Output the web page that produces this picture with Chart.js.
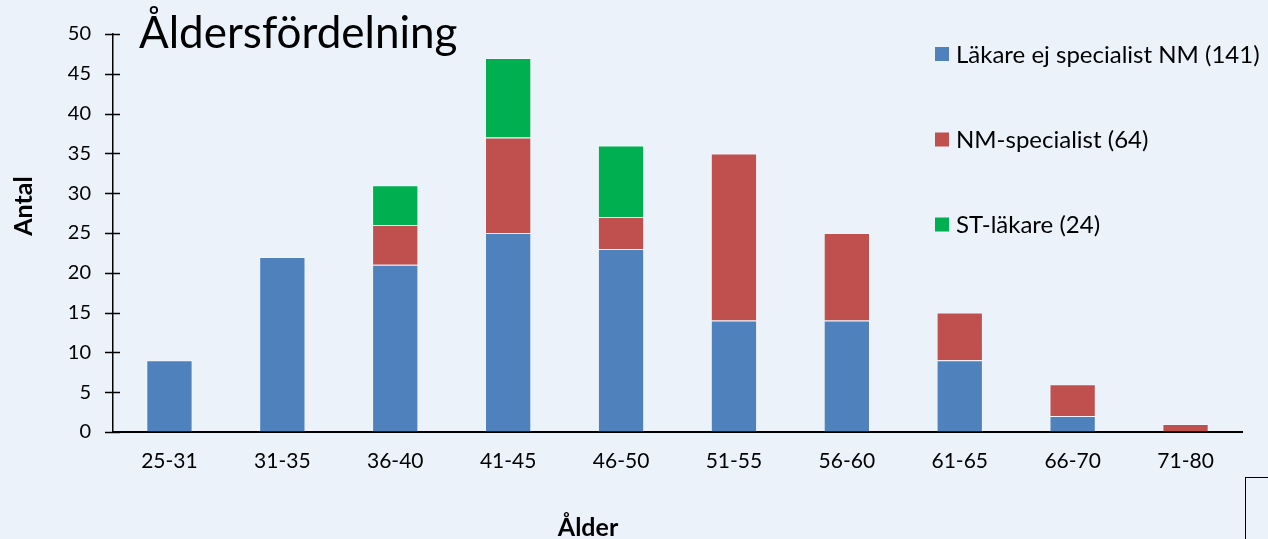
<!DOCTYPE html>
<html lang="sv">
<head>
<meta charset="utf-8">
<title>Åldersfördelning</title>
<script src="https://cdn.jsdelivr.net/npm/chart.js@4/dist/chart.umd.min.js"></script>
<style>
  html, body { margin: 0; padding: 0; background: #EBF2FA; }
  #wrap { position: relative; width: 1268px; height: 539px; overflow: hidden; background: #EBF2FA; }
  #c { display: block; }
  #frame { position: absolute; left: 1245px; top: 477px; width: 60px; height: 100px; border: 1.5px solid #000; box-sizing: border-box; }
</style>
</head>
<body>
<div id="wrap">
  <canvas id="c" width="1268" height="539"></canvas>
  <div id="frame"></div>
</div>
<script>
// Age groups on the x axis
const ageGroups = ['25-31', '31-35', '36-40', '41-45', '46-50', '51-55', '56-60', '61-65', '66-70', '71-80'];

// Number of doctors per age group
const nonSpecialists = [9, 22, 21, 25, 23, 14, 14, 9, 2, 0];
const nmSpecialists  = [0, 0, 5, 12, 4, 21, 11, 6, 4, 1];
const stDoctors      = [0, 0, 5, 10, 9, 0, 0, 0, 0, 0];

// Y axis range and step
const yMin = 0;
const yMax = 50;
const yStep = 5;

const seriesLabels = ['Läkare ej specialist NM (141)', 'NM-specialist (64)', 'ST-läkare (24)'];
const seriesColors = ['#4F81BD', '#C0504D', '#00B050'];

const FONT = 'Lato, "Open Sans", sans-serif';

// Background, title, axis titles, crossing tick marks and the side legend
const decorations = {
  id: 'decorations',
  beforeDraw(chart) {
    const ctx = chart.ctx;
    ctx.save();
    ctx.fillStyle = '#EBF2FA';
    ctx.fillRect(0, 0, chart.width, chart.height);
    ctx.restore();
  },
  afterDraw(chart) {
    const ctx = chart.ctx;
    const y = chart.scales.y;
    const area = chart.chartArea;
    ctx.save();

    // tick marks crossing the value axis
    ctx.strokeStyle = '#000';
    ctx.lineWidth = 1.5;
    y.ticks.forEach(t => {
      const py = Math.round(y.getPixelForValue(t.value)) + 0.5;
      ctx.beginPath();
      ctx.moveTo(area.left - 8, py);
      ctx.lineTo(area.left + 7, py);
      ctx.stroke();
    });

    // chart title
    ctx.fillStyle = '#000';
    ctx.textAlign = 'left';
    ctx.textBaseline = 'alphabetic';
    ctx.font = '400 44px ' + FONT;
    ctx.fillText('Åldersfördelning', 139, 48);

    // axis titles
    ctx.font = '700 25px ' + FONT;
    ctx.textAlign = 'center';
    ctx.textBaseline = 'alphabetic';
    ctx.fillText('Ålder', 588, 536);
    ctx.save();
    ctx.translate(32, 206);
    ctx.rotate(-Math.PI / 2);
    ctx.fillText('Antal', 0, 0);
    ctx.restore();

    // legend
    const rowsY = [54, 139.5, 224.5];
    ctx.font = '400 24px ' + FONT;
    ctx.textAlign = 'left';
    ctx.textBaseline = 'middle';
    chart.data.datasets.forEach((ds, i) => {
      ctx.fillStyle = ds.backgroundColor;
      ctx.fillRect(935, rowsY[i] - 7, 14, 14);
      ctx.fillStyle = '#000';
      ctx.fillText(ds.label, 956, rowsY[i] + 1);
    });
    ctx.restore();
  }
};

const barStyle = {
  borderWidth: 1,
  borderColor: 'rgba(255,255,255,0.35)',
  borderSkipped: 'bottom',
  barPercentage: 0.41,
  categoryPercentage: 1.0
};

new Chart(document.getElementById('c'), {
  type: 'bar',
  data: {
    labels: ageGroups,
    datasets: [
      Object.assign({ label: seriesLabels[0], data: nonSpecialists, backgroundColor: seriesColors[0] }, barStyle),
      Object.assign({ label: seriesLabels[1], data: nmSpecialists, backgroundColor: seriesColors[1] }, barStyle),
      Object.assign({ label: seriesLabels[2], data: stDoctors, backgroundColor: seriesColors[2] }, barStyle)
    ]
  },
  options: {
    responsive: false,
    animation: false,
    layout: { padding: { top: 34, right: 26, left: 0, bottom: 0 } },
    plugins: {
      legend: { display: false },
      title: { display: false },
      tooltip: { enabled: false }
    },
    scales: {
      x: {
        stacked: true,
        grid: { display: false, drawTicks: false },
        border: { display: true, color: '#000', width: 2 },
        ticks: { color: '#000', font: { family: FONT, size: 21 }, padding: 17, maxRotation: 0 },
        afterFit(scale) { scale.height = 107; }
      },
      y: {
        stacked: true,
        min: yMin,
        max: yMax,
        grid: { display: true, drawOnChartArea: false, drawTicks: false, color: '#000' },
        border: { display: true, color: '#000', width: 1.5 },
        ticks: { stepSize: yStep, color: '#000', font: { family: FONT, size: 20 }, padding: 22 },
        afterFit(scale) { scale.width = 113; }
      }
    }
  },
  plugins: [decorations]
});
</script>
</body>
</html>
